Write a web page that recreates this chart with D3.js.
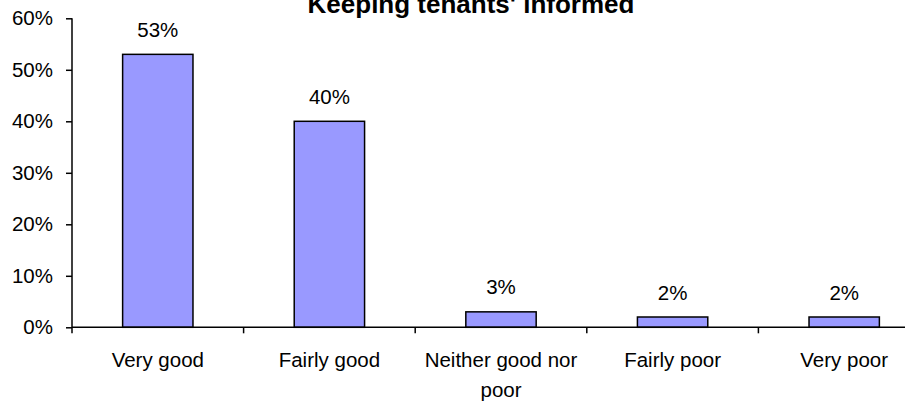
<!DOCTYPE html>
<html>
<head>
<meta charset="utf-8">
<script src="https://cdn.jsdelivr.net/npm/d3@7"></script>
<style>
  html, body { margin: 0; padding: 0; background: #fff; }
  svg { display: block; font-family: "Liberation Sans", Arial, sans-serif; }
</style>
</head>
<body>
<svg id="chart" width="905" height="402"></svg>
<script>
const title = "Keeping tenants' informed";
const categories = ["Very good", "Fairly good", "Neither good nor poor", "Fairly poor", "Very poor"];
const categoryLines = [["Very good"], ["Fairly good"], ["Neither good nor", "poor"], ["Fairly poor"], ["Very poor"]];
const values = [53, 40, 3, 2, 2];
const yTicks = [0, 10, 20, 30, 40, 50, 60];

const svg = d3.select("#chart");
const mLeft = 72, mRight = 930, mTop = 18.3, mBottom = 327.3;

const x = d3.scaleBand().domain(categories).range([mLeft, mRight]).paddingInner(0.59).paddingOuter(0.295);
const xb = d3.scaleBand().domain(categories).range([mLeft, mRight]);
const y = d3.scaleLinear().domain([0, 60]).range([mBottom, mTop]);

// Title (partly cut off at the top, as in the reference)
svg.append("text")
  .attr("x", 471).attr("y", 13)
  .attr("text-anchor", "middle")
  .attr("font-weight", "bold")
  .attr("font-size", "26px")
  .attr("fill", "#000")
  .text(title);

// Bars
svg.selectAll("rect.bar").data(values).join("rect")
  .attr("class", "bar")
  .attr("x", (d, i) => x(categories[i]))
  .attr("width", x.bandwidth())
  .attr("y", d => y(d))
  .attr("height", d => y(0) - y(d))
  .attr("fill", "#9999FF")
  .attr("stroke", "#000")
  .attr("stroke-width", 1.5);

// Value labels
svg.selectAll("text.val").data(values).join("text")
  .attr("class", "val")
  .attr("x", (d, i) => x(categories[i]) + x.bandwidth() / 2)
  .attr("y", d => y(d) - 17.5)
  .attr("text-anchor", "middle")
  .attr("font-size", "20.5px")
  .attr("fill", "#000")
  .text(d => d + "%");

// Y axis
const yAxis = svg.append("g").attr("transform", `translate(${mLeft},0)`)
  .call(d3.axisLeft(y).tickValues(yTicks).tickFormat(d => d + "%").tickSize(6).tickPadding(13));
yAxis.select(".domain").attr("stroke", "#000").attr("stroke-width", 1.5).attr("d", `M0,${mTop}V${mBottom}`);
yAxis.selectAll(".tick line").attr("stroke", "#000").attr("stroke-width", 1.5);
yAxis.selectAll(".tick text").attr("font-size", "20.5px").attr("fill", "#000")
  .attr("font-family", "Liberation Sans, Arial, sans-serif");

// X axis
const xAxisG = svg.append("g").attr("transform", `translate(0,${mBottom})`);
xAxisG.append("line").attr("x1", mLeft).attr("x2", mRight).attr("y1", 0).attr("y2", 0)
  .attr("stroke", "#000").attr("stroke-width", 1.5);
const boundaries = categories.map(c => xb(c)).concat([mRight]);
xAxisG.selectAll("line.tk").data(boundaries).join("line")
  .attr("class", "tk")
  .attr("x1", d => d).attr("x2", d => d)
  .attr("y1", 0).attr("y2", 6)
  .attr("stroke", "#000").attr("stroke-width", 1.5);

const labels = xAxisG.selectAll("text.cat").data(categories).join("text")
  .attr("class", "cat")
  .attr("text-anchor", "middle")
  .attr("font-size", "20.5px")
  .attr("fill", "#000")
  .attr("transform", c => `translate(${xb(c) + xb.bandwidth() / 2},39.4)`);
labels.each(function(c, i) {
  d3.select(this).selectAll("tspan").data(categoryLines[i]).join("tspan")
    .attr("x", 0)
    .attr("dy", (d, j) => j === 0 ? 0 : 30)
    .text(d => d);
});
</script>
</body>
</html>
